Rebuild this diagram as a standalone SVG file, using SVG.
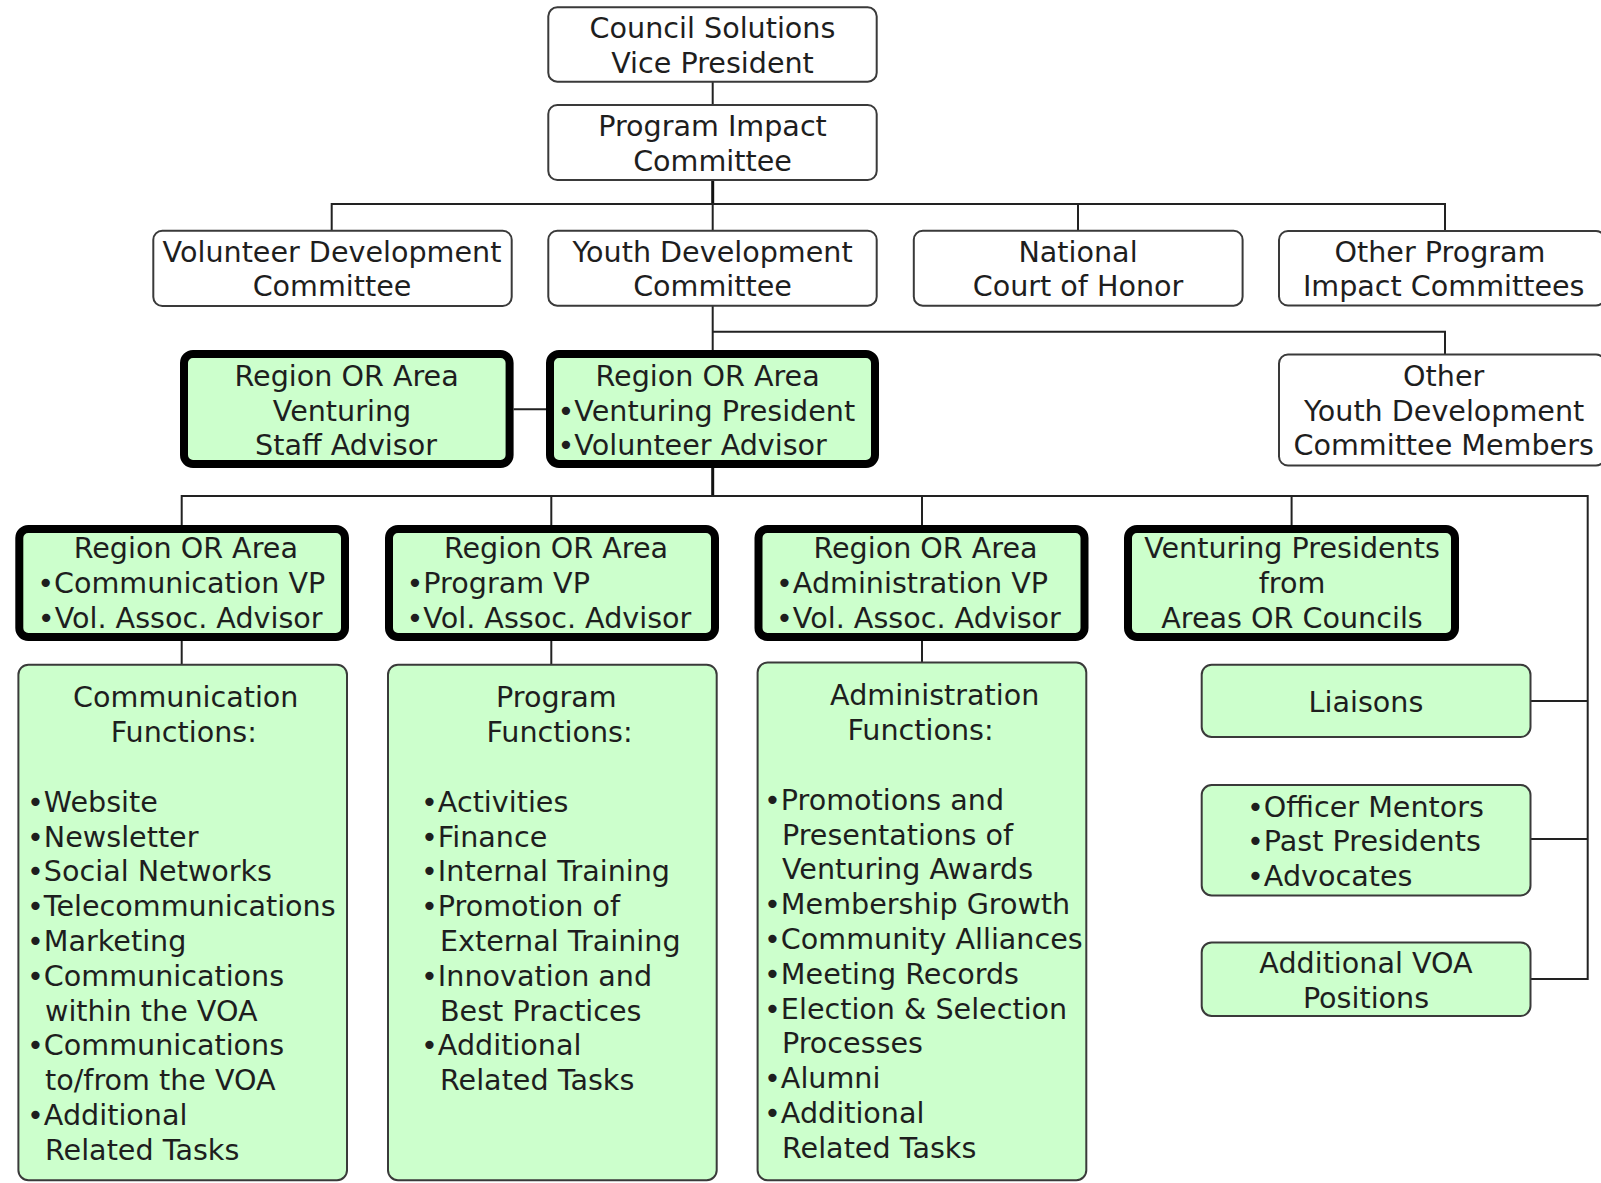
<svg xmlns="http://www.w3.org/2000/svg" width="1601" height="1183" viewBox="0 0 1601 1183">
<style>
.bx{fill:#fff;stroke:#3a3a3a;stroke-width:2}
.gb{fill:#ccffcc;stroke:#3a3a3a;stroke-width:2}
.tk{fill:#ccffcc;stroke:#000;stroke-width:8}
text{font-family:"DejaVu Sans","Liberation Sans",sans-serif;font-size:28.6px;fill:#1e1e1e}
.c{text-anchor:middle}
.ln{stroke:#222;stroke-width:2;fill:none}
.lt{stroke:#111;stroke-width:3;fill:none}
</style>
<rect width="1601" height="1183" fill="#fff"/>
<g id="connectors">
<line class="ln" x1="712.7" y1="81.7" x2="712.7" y2="105"/>
<line class="lt" x1="712.7" y1="180" x2="712.7" y2="204"/>
<line class="ln" x1="712.7" y1="204" x2="712.7" y2="230.7"/>
<polyline class="ln" points="331.7,230.7 331.7,204 1445,204 1445,231"/>
<line class="ln" x1="1078" y1="204" x2="1078" y2="230.7"/>
<line class="ln" x1="712.7" y1="305.7" x2="712.7" y2="350"/>
<polyline class="ln" points="712.7,331.7 1445,331.7 1445,354.5"/>
<line class="ln" x1="513.6" y1="409.3" x2="546" y2="409.3"/>
<line class="lt" x1="712.7" y1="468" x2="712.7" y2="496"/>
<polyline class="ln" points="181.7,525 181.7,496 1587.7,496 1587.7,979 1530.5,979"/>
<line class="ln" x1="551.3" y1="496" x2="551.3" y2="525"/>
<line class="ln" x1="922" y1="496" x2="922" y2="525"/>
<line class="ln" x1="1291.6" y1="496" x2="1291.6" y2="525"/>
<line class="ln" x1="1530.5" y1="701" x2="1587.7" y2="701"/>
<line class="ln" x1="1530.5" y1="839" x2="1587.7" y2="839"/>
<line class="ln" x1="181.7" y1="641" x2="181.7" y2="664.7"/>
<line class="ln" x1="551.3" y1="641" x2="551.3" y2="664.7"/>
<line class="ln" x1="922" y1="641" x2="922" y2="662.6"/>
</g>
<g id="council-vp">
<rect class="bx" x="548.3" y="7.3" width="328.4" height="74.4" rx="9"/>
<text class="c" x="712.5" y="38">Council Solutions</text>
<text class="c" x="712.5" y="73">Vice President</text>
</g>
<g id="program-impact">
<rect class="bx" x="548.3" y="105" width="328.4" height="75" rx="9"/>
<text class="c" x="712.5" y="136">Program Impact</text>
<text class="c" x="712.5" y="170.5">Committee</text>
</g>
<g id="volunteer-dev">
<rect class="bx" x="153.3" y="230.7" width="358.4" height="75.3" rx="9"/>
<text class="c" x="332" y="261.5">Volunteer Development</text>
<text class="c" x="332" y="296.2">Committee</text>
</g>
<g id="youth-dev">
<rect class="bx" x="548.3" y="230.7" width="328.4" height="75" rx="9"/>
<text class="c" x="712.5" y="261.5">Youth Development</text>
<text class="c" x="712.5" y="296.2">Committee</text>
</g>
<g id="national-coh">
<rect class="bx" x="913.8" y="230.7" width="328.8" height="75" rx="9"/>
<text class="c" x="1078" y="261.5">National</text>
<text class="c" x="1078" y="296.2">Court of Honor</text>
</g>
<g id="other-program">
<rect class="bx" x="1279" y="231" width="326" height="74.5" rx="9"/>
<text class="c" x="1440" y="261.5">Other Program</text>
<text class="c" x="1443.7" y="296.2">Impact Committees</text>
</g>
<g id="staff-advisor">
<rect class="tk" x="184" y="354" width="325.6" height="110" rx="9"/>
<text class="c" x="346.6" y="385.7">Region OR Area</text>
<text class="c" x="342" y="420.5">Venturing</text>
<text class="c" x="346" y="455.3">Staff Advisor</text>
</g>
<g id="region-president">
<rect class="tk" x="550" y="354" width="325" height="110" rx="9"/>
<text class="c" x="707.6" y="385.7">Region OR Area</text>
<text x="557.5" y="420.5">•Venturing President</text>
<text x="557.5" y="455.3">•Volunteer Advisor</text>
</g>
<g id="other-ydc">
<rect class="bx" x="1279" y="354.5" width="326" height="111" rx="9"/>
<text class="c" x="1443.7" y="385.7">Other</text>
<text class="c" x="1444.2" y="420.5">Youth Development</text>
<text class="c" x="1443.7" y="455.3">Committee Members</text>
</g>
<g id="comm-vp">
<rect class="tk" x="19.3" y="529" width="325.7" height="108" rx="9"/>
<text class="c" x="185.8" y="558.3">Region OR Area</text>
<text class="c" x="181.2" y="593">•Communication VP</text>
<text class="c" x="180.2" y="627.8">•Vol. Assoc. Advisor</text>
</g>
<g id="program-vp">
<rect class="tk" x="389" y="529" width="326" height="108" rx="9"/>
<text class="c" x="556" y="558.3">Region OR Area</text>
<text x="406.5" y="593">•Program VP</text>
<text x="406.5" y="627.8">•Vol. Assoc. Advisor</text>
</g>
<g id="admin-vp">
<rect class="tk" x="758.5" y="529" width="326" height="108" rx="9"/>
<text class="c" x="925.5" y="558.3">Region OR Area</text>
<text x="776" y="593">•Administration VP</text>
<text x="776" y="627.8">•Vol. Assoc. Advisor</text>
</g>
<g id="venturing-presidents">
<rect class="tk" x="1128" y="529" width="327" height="108" rx="9"/>
<text class="c" x="1292" y="558.3">Venturing Presidents</text>
<text class="c" x="1292" y="593">from</text>
<text class="c" x="1292" y="627.8">Areas OR Councils</text>
</g>
<g id="comm-functions">
<rect class="gb" x="18.4" y="664.7" width="328.6" height="515.5" rx="10"/>
<text class="c" x="185.8" y="707.4">Communication</text>
<text class="c" x="183.8" y="742.2">Functions:</text>
<text x="27" y="811.8">•Website</text>
<text x="27" y="846.6">•Newsletter</text>
<text x="27" y="881.4">•Social Networks</text>
<text x="27" y="916.2">•Telecommunications</text>
<text x="27" y="951">•Marketing</text>
<text x="27" y="985.8">•Communications</text>
<text x="45" y="1020.6">within the VOA</text>
<text x="27" y="1055.4">•Communications</text>
<text x="45" y="1090.2">to/from the VOA</text>
<text x="27" y="1125">•Additional</text>
<text x="45" y="1159.8">Related Tasks</text>
</g>
<g id="program-functions">
<rect class="gb" x="388" y="664.7" width="328.7" height="515.5" rx="10"/>
<text class="c" x="556.4" y="707.4">Program</text>
<text class="c" x="559.5" y="742.2">Functions:</text>
<text x="421" y="811.8">•Activities</text>
<text x="421" y="846.6">•Finance</text>
<text x="421" y="881.4">•Internal Training</text>
<text x="421" y="916.2">•Promotion of</text>
<text x="440" y="951">External Training</text>
<text x="421" y="985.8">•Innovation and</text>
<text x="440" y="1020.6">Best Practices</text>
<text x="421" y="1055.4">•Additional</text>
<text x="440" y="1090.2">Related Tasks</text>
</g>
<g id="admin-functions">
<rect class="gb" x="757.6" y="662.6" width="328.7" height="517.6" rx="10"/>
<text class="c" x="934.7" y="705.3">Administration</text>
<text class="c" x="920.5" y="740.1">Functions:</text>
<text x="764" y="809.7">•Promotions and</text>
<text x="782" y="844.5">Presentations of</text>
<text x="782" y="879.3">Venturing Awards</text>
<text x="764" y="914.1">•Membership Growth</text>
<text x="764" y="948.9">•Community Alliances</text>
<text x="764" y="983.7">•Meeting Records</text>
<text x="764" y="1018.5">•Election &amp; Selection</text>
<text x="782" y="1053.3">Processes</text>
<text x="764" y="1088.1">•Alumni</text>
<text x="764" y="1122.9">•Additional</text>
<text x="782" y="1157.7">Related Tasks</text>
</g>
<g id="liaisons">
<rect class="gb" x="1201.7" y="664.7" width="328.8" height="72.3" rx="10"/>
<text class="c" x="1366" y="712.4">Liaisons</text>
</g>
<g id="mentors">
<rect class="gb" x="1201.7" y="785" width="328.8" height="110.4" rx="10"/>
<text x="1247" y="816.6">•Officer Mentors</text>
<text x="1247" y="851.3">•Past Presidents</text>
<text x="1247" y="886">•Advocates</text>
</g>
<g id="additional-voa">
<rect class="gb" x="1201.7" y="942.4" width="328.8" height="73.6" rx="10"/>
<text class="c" x="1366" y="972.8">Additional VOA</text>
<text class="c" x="1366" y="1007.5">Positions</text>
</g>
</svg>
